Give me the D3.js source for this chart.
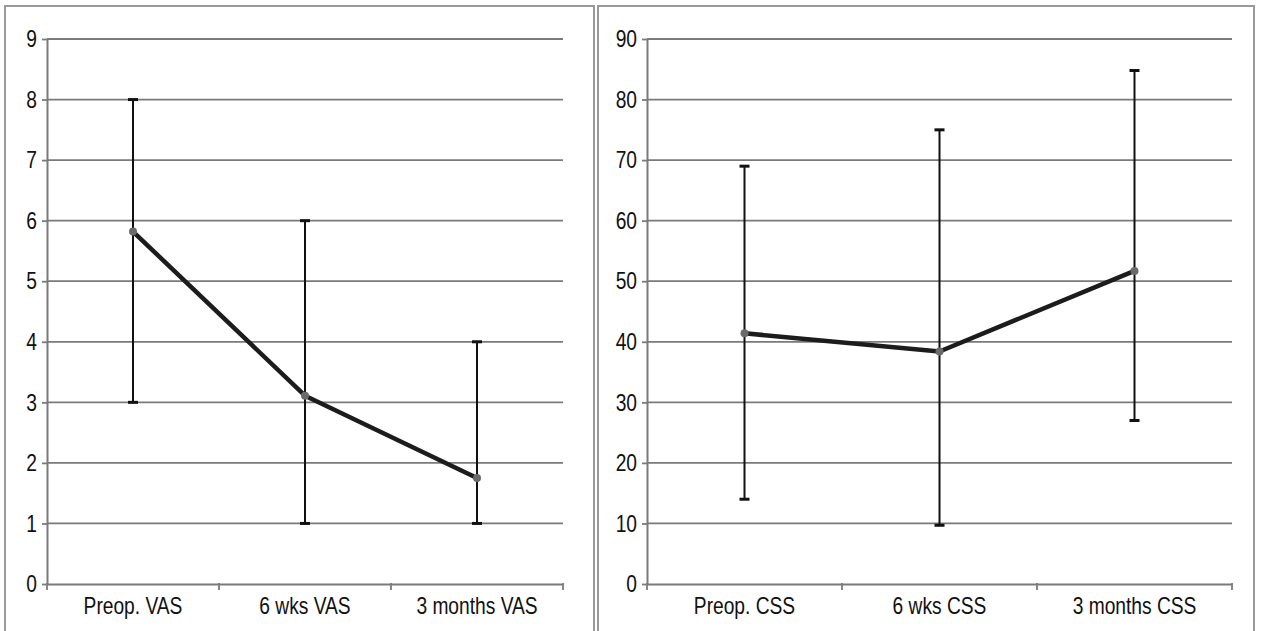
<!DOCTYPE html>
<html>
<head>
<meta charset="utf-8">
<script src="https://cdn.jsdelivr.net/npm/d3@7"></script>
<style>
  body { margin: 0; background: #fff; }
  text { font-family: "Liberation Sans", Arial, sans-serif; fill: #111; }
</style>
</head>
<body>
<div class="js-board"></div>
<script>
// VAS panel (left)
var vasCategories = ['Preop. VAS', '6 wks VAS', '3 months VAS'];
var vasMean = [5.82, 3.11, 1.75];
var vasLow = [3, 1, 1];
var vasHigh = [8, 6, 4];
var vasTicks = [0, 1, 2, 3, 4, 5, 6, 7, 8, 9];

// CSS panel (right)
var cssCategories = ['Preop. CSS', '6 wks CSS', '3 months CSS'];
var cssMean = [41.4, 38.4, 51.7];
var cssLow = [14, 9.7, 27];
var cssHigh = [69, 75, 84.8];
var cssTicks = [0, 10, 20, 30, 40, 50, 60, 70, 80, 90];

var narrow = 0.8; // the original type is a condensed sans

var svg = d3.select('.js-board')
  .append('svg')
  .attr('width', 1262)
  .attr('height', 631);

function drawPanel(p) {
  var g = svg.append('g');

  // panel frame
  g.append('rect')
    .attr('x', p.frame[0])
    .attr('y', p.frame[1])
    .attr('width', p.frame[2])
    .attr('height', p.frame[3])
    .attr('fill', 'none')
    .attr('stroke', '#9a9a9a')
    .attr('stroke-width', 2);

  var x = d3.scaleBand().domain(p.categories).range([p.left, p.right]);
  var y = d3.scaleLinear().domain([0, d3.max(p.ticks)]).range([584, 39]);

  // gridlines
  g.selectAll('.grid')
    .data(p.ticks.slice(1))
    .enter()
    .append('line')
    .attr('x1', p.left)
    .attr('x2', p.right)
    .attr('y1', function(d) { return y(d); })
    .attr('y2', function(d) { return y(d); })
    .attr('stroke', '#7a7a7a')
    .attr('stroke-width', 1.8);

  // y axis
  var ya = g.append('g')
    .attr('transform', 'translate(' + p.left + ',0)')
    .call(d3.axisLeft(y).tickValues(p.ticks).tickFormat(d3.format('d')).tickSize(5).tickSizeOuter(0).tickPadding(7));
  ya.select('.domain').attr('stroke', '#7a7a7a').attr('stroke-width', 2);
  ya.selectAll('.tick line').attr('stroke', '#7a7a7a').attr('stroke-width', 1.8);
  ya.selectAll('text')
    .style('font-size', '24px')
    .attr('fill', '#111')
    .attr('x', -10 / narrow)
    .attr('transform', 'scale(' + narrow + ',1)');

  // x axis
  var xa = g.append('g')
    .attr('transform', 'translate(0,' + y(0) + ')')
    .call(d3.axisBottom(x).tickSize(0).tickPadding(13));
  xa.select('.domain').attr('stroke', '#7a7a7a').attr('stroke-width', 2);
  xa.selectAll('text')
    .style('font-size', '24px')
    .attr('fill', '#111')
    .attr('transform', 'scale(' + narrow + ',1)');

  // category boundary ticks
  var edges = p.categories.map(function(c) { return x(c); }).concat([x.range()[1]]);
  g.selectAll('.xtick')
    .data(edges)
    .enter()
    .append('line')
    .attr('x1', function(d) { return d; })
    .attr('x2', function(d) { return d; })
    .attr('y1', y(0) - 1)
    .attr('y2', y(0) + 6)
    .attr('stroke', '#7a7a7a')
    .attr('stroke-width', 1.8);

  var pts = p.categories.map(function(c, i) {
    return { cx: x(c) + x.bandwidth() / 2, mean: p.mean[i], low: p.low[i], high: p.high[i] };
  });

  // error bars
  var eb = g.selectAll('.err').data(pts).enter().append('g');
  eb.append('line')
    .attr('x1', function(d) { return d.cx; })
    .attr('x2', function(d) { return d.cx; })
    .attr('y1', function(d) { return y(d.low); })
    .attr('y2', function(d) { return y(d.high); })
    .attr('stroke', '#111')
    .attr('stroke-width', 2);
  eb.append('line')
    .attr('x1', function(d) { return d.cx - 5; })
    .attr('x2', function(d) { return d.cx + 5; })
    .attr('y1', function(d) { return y(d.high); })
    .attr('y2', function(d) { return y(d.high); })
    .attr('stroke', '#111')
    .attr('stroke-width', 3);
  eb.append('line')
    .attr('x1', function(d) { return d.cx - 5; })
    .attr('x2', function(d) { return d.cx + 5; })
    .attr('y1', function(d) { return y(d.low); })
    .attr('y2', function(d) { return y(d.low); })
    .attr('stroke', '#111')
    .attr('stroke-width', 3);

  // mean line
  var line = d3.line()
    .x(function(d) { return d.cx; })
    .y(function(d) { return y(d.mean); });
  g.append('path')
    .datum(pts)
    .attr('d', line)
    .attr('fill', 'none')
    .attr('stroke', '#1c1c1c')
    .attr('stroke-width', 4.5)
    .attr('stroke-linejoin', 'round');

  g.selectAll('.dot')
    .data(pts)
    .enter()
    .append('circle')
    .attr('cx', function(d) { return d.cx; })
    .attr('cy', function(d) { return y(d.mean); })
    .attr('r', 4)
    .attr('fill', '#6a6a6a');
}

drawPanel({
  frame: [5, 6, 589, 640],
  left: 47, right: 563,
  categories: vasCategories, mean: vasMean, low: vasLow, high: vasHigh, ticks: vasTicks
});

drawPanel({
  frame: [598, 6, 656, 640],
  left: 647, right: 1232,
  categories: cssCategories, mean: cssMean, low: cssLow, high: cssHigh, ticks: cssTicks
});
</script>
</body>
</html>
